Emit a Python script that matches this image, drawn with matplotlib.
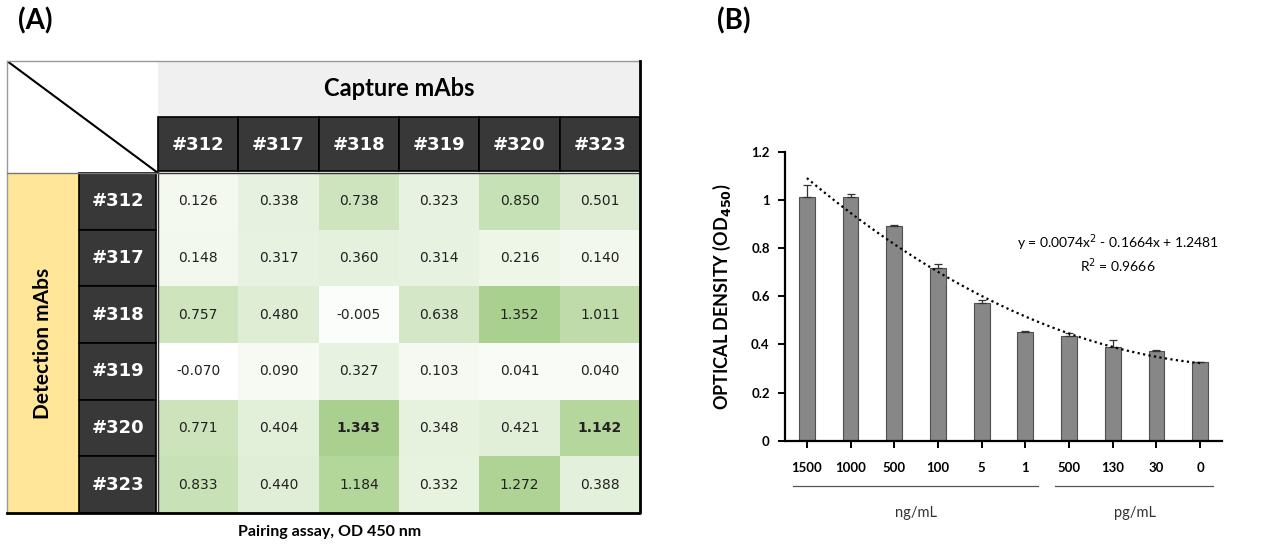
import matplotlib
matplotlib.use("Agg")
import matplotlib.pyplot as plt
import numpy as np
from matplotlib.patches import Rectangle
from matplotlib.colors import LinearSegmentedColormap
from matplotlib.transforms import blended_transform_factory

# ---- dados do painel A (pareamento) ----
capture_mabs = ['#312', '#317', '#318', '#319', '#320', '#323']
detection_mabs = ['#312', '#317', '#318', '#319', '#320', '#323']
od_pairing = np.array([
    [0.126, 0.338, 0.738, 0.323, 0.850, 0.501],
    [0.148, 0.317, 0.360, 0.314, 0.216, 0.140],
    [0.757, 0.480, -0.005, 0.638, 1.352, 1.011],
    [-0.070, 0.090, 0.327, 0.103, 0.041, 0.040],
    [0.771, 0.404, 1.343, 0.348, 0.421, 1.142],
    [0.833, 0.440, 1.184, 0.332, 1.272, 0.388],
])
destaque = [(4, 2), (4, 5)]  # celulas em negrito

# ---- dados do painel B (curva padrao) ----
concentracoes = ['1500', '1000', '500', '100', '5', '1', '500', '130', '30', '0']
od_media = [1.011, 1.011, 0.893, 0.717, 0.572, 0.452, 0.436, 0.391, 0.372, 0.327]
od_erro = [0.050, 0.013, 0.003, 0.017, 0.014, 0.002, 0.011, 0.027, 0.007, 0.0]
grupos = [('ng/mL', 0, 5), ('pg/mL', 6, 9)]
eq_texto = 'y = 0.0074x$^2$ - 0.1664x + 1.2481'
r2_texto = 'R$^2$ = 0.9666'

W, H = 1286, 546
fig = plt.figure(figsize=(W / 100, H / 100), dpi=100)
fonte = ['Lato', 'DejaVu Sans']

fig.text(18 / W, 1 - 21 / H, '(A)', fontsize=20, fontweight='bold', family=fonte, va='center')
fig.text(717 / W, 1 - 21 / H, '(B)', fontsize=20, fontweight='bold', family=fonte, va='center')

# ================= Painel A =================
axA = fig.add_axes([7 / W, (H - 513) / H, 633 / W, 452 / H])
x_esq, y_top = -1.88, -1.976
axA.set_xlim(x_esq, 6)
axA.set_ylim(6, y_top)
axA.axis('off')

cmap = LinearSegmentedColormap.from_list('verde', ['#ffffff', '#a9d08e'])
axA.pcolormesh(np.arange(7), np.arange(7), od_pairing, cmap=cmap,
               vmin=od_pairing.min(), vmax=od_pairing.max())

escuro = '#383838'
# cabecalho cinza
axA.add_patch(Rectangle((0, y_top), 6, -0.988 - y_top, fc='#f0f0f0', ec='none'))
axA.text(3, (y_top - 0.988) / 2, 'Capture mAbs', ha='center', va='center',
         fontsize=17, fontweight='bold', family=fonte)
# faixa amarela
axA.add_patch(Rectangle((x_esq, 0), -0.983 - x_esq, 6, fc='#ffe699', ec='none'))
axA.text((x_esq - 0.983) / 2, 3, 'Detection mAbs', rotation=90, ha='center', va='center',
         fontsize=15, fontweight='bold', family=fonte)

for i, nome in enumerate(capture_mabs):
    axA.add_patch(Rectangle((i, -0.988), 1, 0.96, fc=escuro, ec='black', lw=1.2))
    axA.text(i + 0.5, -0.5, nome, color='white', ha='center', va='center',
             fontsize=13, fontweight='bold')
for j, nome in enumerate(detection_mabs):
    axA.add_patch(Rectangle((-0.983, j), 0.96, 1, fc=escuro, ec='black', lw=1.2))
    axA.text(-0.5, j + 0.5, nome, color='white', ha='center', va='center',
             fontsize=13, fontweight='bold')

for r in range(od_pairing.shape[0]):
    for c in range(od_pairing.shape[1]):
        peso = 'bold' if (r, c) in destaque else 'normal'
        axA.text(c + 0.5, r + 0.5, f'{od_pairing[r, c]:.3f}', ha='center', va='center',
                 fontsize=10, color='#222222', fontweight=peso)

# bordas
axA.add_patch(Rectangle((0, 0), 6, 6, fill=False, ec='#333333', lw=1))
axA.plot([x_esq, 0], [y_top, 0], color='black', lw=1.5)
axA.plot([x_esq, 6], [y_top, y_top], color='#999999', lw=1, clip_on=False)
axA.plot([x_esq, x_esq], [y_top, 6], color='#999999', lw=1, clip_on=False)
axA.plot([x_esq, 6, 6], [6, 6, y_top], color='black', lw=2, clip_on=False)
axA.plot([x_esq, 0], [0, 0], color='#777777', lw=1)

fig.text(330 / W, 1 - 532 / H, 'Pairing assay, OD 450 nm', ha='center', va='center',
         fontsize=11.5, fontweight='bold', family=fonte)

# ================= Painel B =================
axB = fig.add_axes([785 / W, (H - 440.7) / H, 437 / W, 288.7 / H])
x = np.arange(len(concentracoes))
axB.bar(x, od_media, width=0.36, color='#878787', edgecolor='#505050', linewidth=0.8, zorder=2)
axB.errorbar(x, od_media, yerr=[np.zeros(len(od_erro)), od_erro], fmt='none',
             ecolor='#333333', elinewidth=0.9, capsize=3, capthick=0.9, zorder=3)

# tendencia polinomial de grau 2 (como no Excel)
coef = np.polyfit(x + 1, od_media, 2)
tendencia = np.poly1d(coef)
x_vals = np.linspace(1, len(x), 100)
axB.plot(x_vals - 1, tendencia(x_vals), color='black', linestyle=(0, (1, 1.5)), lw=1.6, zorder=4)

axB.text(7.12, 0.822, eq_texto, ha='center', va='center', fontsize=10, family=fonte)
axB.text(7.12, 0.726, r2_texto, ha='center', va='center', fontsize=10, family=fonte)

axB.set_xlim(-0.5, 9.5)
axB.set_ylim(0, 1.2)
axB.set_yticks(np.arange(0, 1.21, 0.2))
axB.set_yticklabels(['0', '0.2', '0.4', '0.6', '0.8', '1', '1.2'])
axB.set_xticks(x)
axB.set_xticklabels(concentracoes)
for s in ['top', 'right']:
    axB.spines[s].set_visible(False)
for s in ['left', 'bottom']:
    axB.spines[s].set_linewidth(1.6)
axB.tick_params(axis='both', direction='out', length=5, width=1.4, labelsize=9.5)
axB.tick_params(axis='x', pad=10)
axB.tick_params(axis='y', pad=6)
for lab in axB.get_xticklabels() + axB.get_yticklabels():
    lab.set_family(fonte)
    lab.set_fontweight('bold')
axB.set_ylabel('OPTICAL DENSITY (OD$_{\\mathbf{450}}$)', fontsize=13, fontweight='bold',
               family=fonte, labelpad=13)

# linhas dos grupos de unidade
trans = blended_transform_factory(axB.transData, axB.transAxes)
for nome, ini, fim in grupos:
    axB.plot([ini - 0.32, fim + 0.29], [-0.157, -0.157], color='#555555', lw=0.9,
             transform=trans, clip_on=False)
    axB.text((ini + fim) / 2, -0.25, nome, transform=trans, ha='center', va='center',
             fontsize=10.5, color='#333333', family=fonte)

plt.savefig('out.png', dpi=100)
